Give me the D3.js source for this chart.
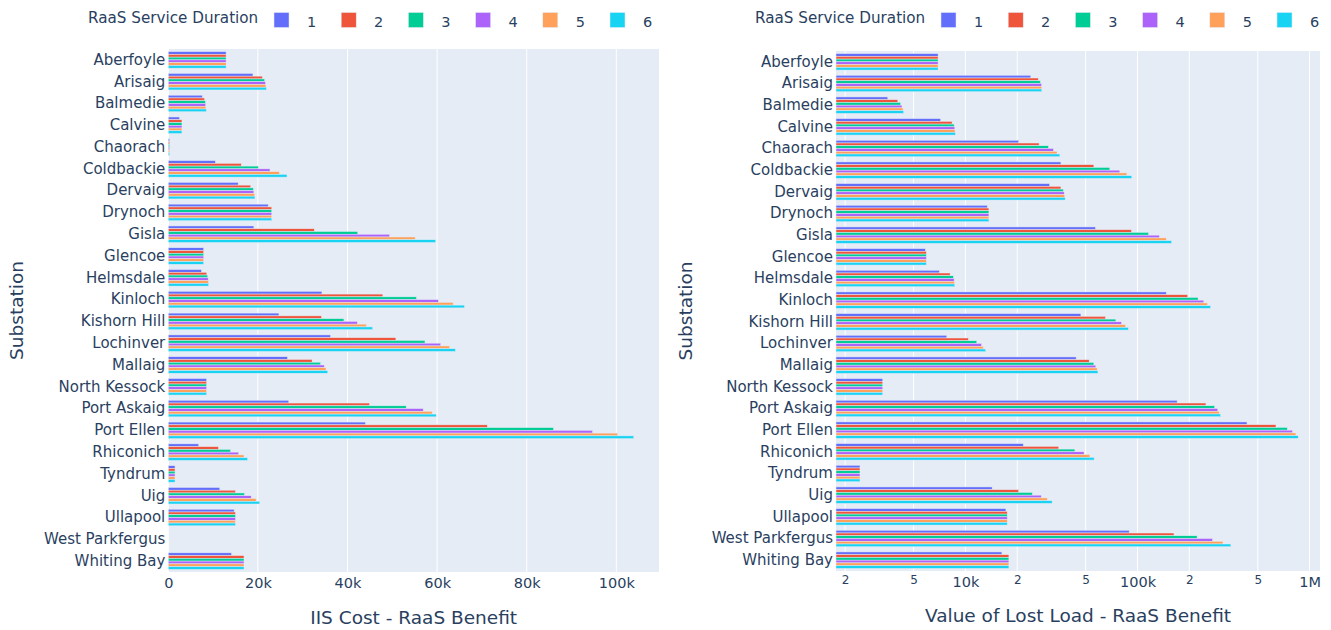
<!DOCTYPE html>
<html>
<head>
<meta charset="utf-8">
<script src="https://cdn.jsdelivr.net/npm/d3@7"></script>
<style>
  html, body { margin: 0; padding: 0; background: #fff; }
  svg { display: block; font-family: "DejaVu Sans", Verdana, sans-serif; }
</style>
</head>
<body>
<svg id="chart" width="1331" height="630"></svg>
<script>
// Substations (top to bottom)
const substations = [
  "Aberfoyle", "Arisaig", "Balmedie", "Calvine", "Chaorach", "Coldbackie",
  "Dervaig", "Drynoch", "Gisla", "Glencoe", "Helmsdale", "Kinloch",
  "Kishorn Hill", "Lochinver", "Mallaig", "North Kessock", "Port Askaig",
  "Port Ellen", "Rhiconich", "Tyndrum", "Uig", "Ullapool",
  "West Parkfergus", "Whiting Bay"
];

// RaaS service durations (legend entries)
const durations = ["1", "2", "3", "4", "5", "6"];
const durationColors = ["#636efa", "#EF553B", "#00cc96", "#ab63fa", "#FFA15A", "#19d3f3"];

// IIS Cost - RaaS Benefit, one array per service duration
const iisDur1 = [12900, 18900, 7600, 2500, 300, 10500, 15600, 22300, 19100, 7900, 7400, 34300, 24700, 36200, 26600, 8550, 26900, 44000, 6800, 1500, 11500, 14700, 0, 14100];
const iisDur2 = [12900, 21000, 8100, 3050, 300, 16300, 18400, 23100, 32600, 7900, 8600, 47900, 34200, 50800, 32100, 8550, 44900, 71200, 11200, 1500, 15000, 15000, 0, 16900];
const iisDur3 = [12900, 21500, 8300, 3050, 300, 20100, 19000, 23100, 42300, 7900, 8800, 55400, 39200, 57300, 34000, 8550, 53100, 86000, 13900, 1500, 17000, 15000, 0, 16900];
const iisDur4 = [12900, 21700, 8350, 3050, 300, 22700, 19100, 23100, 49400, 7900, 8900, 60300, 42200, 60800, 34800, 8550, 56900, 94700, 15700, 1500, 18500, 15000, 0, 16900];
const iisDur5 = [12900, 21800, 8400, 3050, 300, 24800, 19300, 23100, 55100, 7900, 9000, 63600, 44200, 62800, 35200, 8550, 58900, 100300, 16900, 1500, 19600, 15000, 0, 16900];
const iisDur6 = [12900, 21900, 8500, 3050, 300, 26500, 19350, 23100, 59700, 7900, 9000, 66100, 45600, 64100, 35600, 8550, 59800, 103900, 17700, 1500, 20400, 15000, 0, 16900];

// Value of Lost Load - RaaS Benefit, one array per service duration
const vollDur1 = [6940, 24000, 3540, 7190, 20400, 35900, 30900, 13400, 57000, 5850, 7060, 147000, 46900, 7800, 44000, 3310, 170000, 433000, 21700, 2440, 14300, 17200, 89500, 16300];
const vollDur2 = [6940, 26500, 4050, 8370, 26800, 55800, 35900, 13700, 92300, 5930, 8150, 196000, 65200, 10400, 52400, 3310, 250000, 638000, 34900, 2440, 20400, 17500, 163000, 17900];
const vollDur3 = [6940, 27300, 4210, 8600, 30400, 69100, 37100, 13700, 116000, 5930, 8520, 225000, 74900, 11650, 55800, 3310, 281000, 742000, 43300, 2440, 24500, 17500, 222000, 17900];
const vollDur4 = [6940, 27700, 4280, 8680, 32500, 79000, 37500, 13700, 134000, 5930, 8600, 243000, 80700, 12400, 57300, 3310, 293000, 796000, 48900, 2440, 27600, 17500, 273000, 17900];
const vollDur5 = [6940, 27800, 4340, 8700, 34100, 86800, 37800, 13700, 147000, 5930, 8640, 255000, 85200, 12700, 58300, 3310, 299000, 833000, 52900, 2440, 29900, 17500, 314000, 17900];
const vollDur6 = [6940, 27800, 4380, 8750, 35400, 92700, 38000, 13700, 158000, 5930, 8680, 266000, 88600, 13100, 58900, 3310, 304000, 859000, 56000, 2440, 31900, 17500, 349000, 17900];

// Axis tick values and labels
const iisTicks = [0, 20000, 40000, 60000, 80000, 100000];
const iisTickLabels = ["0", "20k", "40k", "60k", "80k", "100k"];
const vollTicks = [2000, 5000, 10000, 20000, 50000, 100000, 200000, 500000, 1000000];
const vollTickLabels = ["2", "5", "10k", "2", "5", "100k", "2", "5", "1M"];

const iisSeries = [iisDur1, iisDur2, iisDur3, iisDur4, iisDur5, iisDur6];
const vollSeries = [vollDur1, vollDur2, vollDur3, vollDur4, vollDur5, vollDur6];

const TEXT = "#2a3f5f";
const PLOT_BG = "#E5ECF6";
const FONT = "'DejaVu Sans', Verdana, sans-serif";
const svg = d3.select("#chart");

function drawPanel(opts) {
  const g = svg.append("g");
  const { left, right, top, bottom } = opts.box;

  const x = opts.log
    ? d3.scaleLog().domain(opts.domain).range([left, right])
    : d3.scaleLinear().domain(opts.domain).range([left, right]);

  const y = d3.scaleBand().domain(substations).range([top, bottom])
    .paddingInner(0.24).paddingOuter(0.12);
  const inner = d3.scaleBand().domain(durations).range([0, y.bandwidth()]);

  // plot background
  g.append("rect").attr("x", left).attr("y", top)
    .attr("width", right - left).attr("height", bottom - top)
    .attr("fill", PLOT_BG);

  // vertical gridlines
  g.append("g").selectAll("line").data(opts.ticks).join("line")
    .attr("x1", d => x(d)).attr("x2", d => x(d))
    .attr("y1", top).attr("y2", bottom)
    .attr("stroke", "#fff").attr("stroke-width", 1);

  // bars
  const base = opts.log ? left : x(0);
  opts.series.forEach((vals, si) => {
    g.append("g").selectAll("rect").data(vals).join("rect")
      .attr("x", base)
      .attr("y", (d, i) => y(substations[i]) + inner(durations[si]))
      .attr("width", d => Math.max(0, x(Math.max(d, opts.domain[0])) - base))
      .attr("height", inner.bandwidth())
      .attr("fill", durationColors[si])
      .attr("stroke", d => d > 0 ? PLOT_BG : "none")
      .attr("stroke-width", 0.5);
  });

  // category labels
  const yAxis = d3.axisLeft(y).tickSize(0).tickPadding(3);
  const ya = g.append("g").attr("transform", `translate(${left},0)`).call(yAxis);
  ya.select(".domain").remove();
  ya.selectAll("text").attr("fill", TEXT).style("font-size", "15px")
    .style("font-family", FONT);

  // x tick labels
  const isMinor = i => opts.minor && opts.minor(opts.tickLabels[i]);
  const xAxis = d3.axisBottom(x).tickValues(opts.ticks)
    .tickFormat((d, i) => opts.tickLabels[i]).tickSize(0).tickPadding(6);
  const xa = g.append("g").attr("transform", `translate(0,${bottom})`).call(xAxis);
  xa.select(".domain").remove();
  xa.selectAll("text").attr("fill", TEXT)
    .style("font-family", FONT)
    .style("font-size", (d, i) => isMinor(i) ? "12px" : "14.5px")
    .attr("dy", (d, i) => isMinor(i) ? "0.6em" : "0.71em");

  // axis titles
  g.append("text").attr("x", (left + right) / 2).attr("y", opts.xTitleY)
    .attr("text-anchor", "middle").attr("fill", TEXT).style("font-size", "18.5px")
    .text(opts.xTitle);
  g.append("text")
    .attr("transform", `translate(${opts.yTitleX},${(top + bottom) / 2}) rotate(-90)`)
    .attr("text-anchor", "middle").attr("fill", TEXT).style("font-size", "18.5px")
    .text("Substation");

  // legend
  const lg = g.append("g");
  lg.append("text").attr("x", opts.legendX).attr("y", 22.5)
    .attr("fill", TEXT).style("font-size", "15.2px").text("RaaS Service Duration");
  const items = lg.selectAll("g.item").data(durations).join("g")
    .attr("transform", (d, i) => `translate(${opts.legendItemX + i * 67.2},0)`);
  items.append("rect").attr("x", 0).attr("y", 12.5).attr("width", 15).attr("height", 15)
    .attr("fill", (d, i) => durationColors[i]).attr("stroke", PLOT_BG).attr("stroke-width", 0.5);
  items.append("text").attr("x", 37.5).attr("y", 27).attr("text-anchor", "middle")
    .attr("fill", TEXT).style("font-size", "14.5px").text(d => d);
}

drawPanel({
  box: { left: 168.3, right: 659, top: 49, bottom: 572 },
  domain: [0, 109530],
  log: false,
  series: iisSeries,
  ticks: iisTicks,
  tickLabels: iisTickLabels,
  xTitle: "IIS Cost - RaaS Benefit",
  xTitleY: 623.5,
  yTitleX: 23,
  legendX: 88,
  legendItemX: 274
});

drawPanel({
  box: { left: 836, right: 1320, top: 51, bottom: 571 },
  domain: [1770, 1150000],
  log: true,
  series: vollSeries,
  ticks: vollTicks,
  tickLabels: vollTickLabels,
  minor: s => s === "2" || s === "5",
  xTitle: "Value of Lost Load - RaaS Benefit",
  xTitleY: 621.5,
  yTitleX: 692,
  legendX: 755,
  legendItemX: 941
});
</script>
</body>
</html>
